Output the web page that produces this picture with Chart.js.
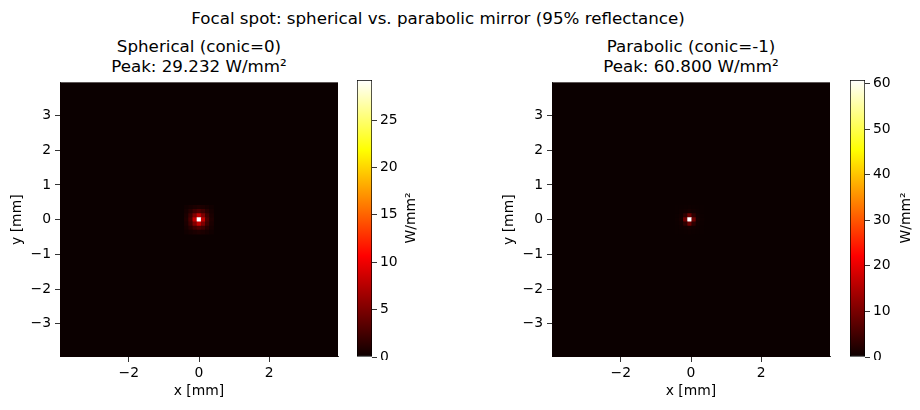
<!doctype html>
<html lang="en">
  <head>
    <meta charset="utf-8">
    <title>Focal spot</title>
    <style>
      * { margin: 0; padding: 0; font-family: "DejaVu Sans", sans-serif; }
      body { width: 920px; height: 410px; background: #fff; position: relative; overflow: hidden; }
      .box { position: absolute; }
      .txt { position: absolute; color: #000; white-space: nowrap; text-align: center; }
      .ttl { font-size: 16.7px; line-height: 20px; width: 400px; }
      .sup { width: 640px; }
      .cbl { font-size: 13.9px; line-height: 16px; width: 80px; transform: rotate(-90deg); }
    </style>
  </head>
  <body>
    <div class="txt ttl sup" style="left:118px; top:8px;">Focal spot: spherical vs. parabolic mirror (95% reflectance)</div>
    <div class="txt ttl" style="left:-1px; top:36px;">Spherical (conic=0)<br>Peak: 29.232 W/mm²</div>
    <div class="txt ttl" style="left:491px; top:36px;">Parabolic (conic=-1)<br>Peak: 60.800 W/mm²</div>

    <div class="box" style="left:0px; top:70px; width:345px; height:340px;"><canvas id="mapL"></canvas></div>
    <div class="box" style="left:345px; top:70px; width:75px; height:290px;"><canvas id="cbL"></canvas></div>
    <div class="txt cbl" style="left:370px; top:210px;">W/mm²</div>

    <div class="box" style="left:492px; top:70px; width:345px; height:340px;"><canvas id="mapR"></canvas></div>
    <div class="box" style="left:838px; top:70px; width:75px; height:290px;"><canvas id="cbR"></canvas></div>
    <div class="txt cbl" style="left:865px; top:210px;">W/mm²</div>

    <script src="https://cdn.jsdelivr.net/npm/chart.js/dist/chart.umd.min.js"></script>
    <script>
    // data
    const extent = 3.96;            // mm, half width of the image
    const cellSize = 0.12;          // mm per image cell
    const xTicks = [-2, 0, 2];
    const yTicks = [-3, -2, -1, 0, 1, 2, 3];
    const peakSph = 29.232;
    const peakPar = 60.8;
    const cbTicksSph = [0, 5, 10, 15, 20, 25];
    const cbTicksPar = [0, 10, 20, 30, 40, 50, 60];
    const centerSph = [0, 0];
    const centerPar = [-0.04, 0];

    // irradiance around the focus, W/mm² (rows top to bottom)
    const gridSph = [
      [0.3, 0.5, 0.7, 0.9, 0.7, 0.5, 0.3],
      [0.5, 1.2, 2.2, 2.8, 2.2, 1.2, 0.5],
      [0.7, 2.2, 5.0, 8.0, 5.0, 2.2, 0.7],
      [0.9, 2.8, 8.0, 29.232, 8.0, 2.8, 0.9],
      [0.7, 2.2, 5.0, 8.0, 5.0, 2.2, 0.7],
      [0.5, 1.2, 2.2, 2.8, 2.2, 1.2, 0.5],
      [0.3, 0.5, 0.7, 0.9, 0.7, 0.5, 0.3]
    ];
    const gridPar = [
      [0.1, 0.1, 0.2, 0.3, 0.2, 0.1, 0.1],
      [0.1, 0.3, 0.6, 0.9, 0.6, 0.3, 0.1],
      [0.2, 0.6, 3.0, 9.0, 3.0, 0.6, 0.2],
      [0.3, 0.9, 9.0, 60.8, 9.0, 0.9, 0.3],
      [0.2, 0.6, 3.0, 9.0, 3.0, 0.6, 0.2],
      [0.1, 0.3, 0.6, 0.9, 0.6, 0.3, 0.1],
      [0.1, 0.1, 0.2, 0.3, 0.2, 0.1, 0.1]
    ];

    // matplotlib 'hot'
    function hot(t) {
      t = Math.max(0, Math.min(1, t));
      const r = t < 0.365079 ? 0.0416 + (1 - 0.0416) * t / 0.365079 : 1;
      const g = t < 0.365079 ? 0 : (t < 0.746032 ? (t - 0.365079) / (0.746032 - 0.365079) : 1);
      const b = t < 0.746032 ? 0 : (t - 0.746032) / (1 - 0.746032);
      return `rgb(${Math.round(r * 255)},${Math.round(g * 255)},${Math.round(b * 255)})`;
    }

    const FONT = { family: 'DejaVu Sans', size: 13.9 };
    const minus = v => (v < 0 ? '\u2212' + Math.abs(v) : '' + v);

    const imageBg = {
      id: 'imageBg',
      beforeDatasetsDraw(chart) {
        const a = chart.chartArea;
        const c = chart.ctx;
        c.save();
        c.fillStyle = hot(0);
        c.fillRect(a.left, a.top, a.right - a.left, a.bottom - a.top);
        c.restore();
      }
    };

    function cellPoints(grid, center) {
      const n = grid.length, h = (n - 1) / 2;
      const pts = [];
      grid.forEach((row, i) => row.forEach((v, j) => {
        pts.push({ x: center[0] + (j - h) * cellSize, y: center[1] + (h - i) * cellSize, v });
      }));
      return pts;
    }

    function cellRadius(ctx) {
      const x = ctx.chart.scales.x;
      if (!x) return 2;
      const side = Math.abs(x.getPixelForValue(cellSize) - x.getPixelForValue(0));
      return (side + 0.4) / Math.SQRT2;
    }

    function mapChart(id, grid, center, peak) {
      return new Chart(document.getElementById(id), {
        type: 'scatter',
        data: {
          datasets: [{
            data: cellPoints(grid, center),
            pointStyle: 'rect',
            borderWidth: 0,
            backgroundColor: ctx => hot(ctx.raw ? ctx.raw.v / peak : 0),
            pointRadius: cellRadius,
            pointHoverRadius: cellRadius
          }]
        },
        options: {
          responsive: true,
          maintainAspectRatio: false,
          animation: false,
          events: [],
          layout: { padding: { top: 10, right: 7, left: 0, bottom: 0 } },
          plugins: { legend: { display: false }, tooltip: { enabled: false } },
          scales: {
            x: {
              type: 'linear', min: -extent, max: extent,
              afterBuildTicks: s => { s.ticks = xTicks.map(v => ({ value: v })); },
              afterFit: s => { s.height = 53; },
              ticks: { color: '#000', font: FONT, padding: 3, maxRotation: 0, callback: v => minus(v) },
              grid: { drawOnChartArea: false, drawTicks: true, tickLength: 5, tickColor: '#000', tickWidth: 0.8 },
              border: { display: true, color: '#000', width: 0.8 },
              title: { display: true, text: 'x [mm]', color: '#000', font: FONT, padding: { top: 0, bottom: 10 } }
            },
            y: {
              type: 'linear', min: -extent, max: extent,
              afterBuildTicks: s => { s.ticks = yTicks.map(v => ({ value: v })); },
              afterFit: s => { s.width = 60; },
              ticks: { color: '#000', font: FONT, padding: 4, callback: v => minus(v) },
              grid: { drawOnChartArea: false, drawTicks: true, tickLength: 5, tickColor: '#000', tickWidth: 0.8 },
              border: { display: true, color: '#000', width: 0.8 },
              title: { display: true, text: 'y [mm]', color: '#000', font: FONT, padding: { top: 9, bottom: 0 } }
            }
          }
        },
        plugins: [imageBg]
      });
    }

    function colorbar(id, peak, ticks) {
      return new Chart(document.getElementById(id), {
        type: 'bar',
        data: {
          labels: ['cb'],
          datasets: [{
            data: [[0, peak]],
            barPercentage: 1,
            categoryPercentage: 1,
            borderWidth: 1,
            borderColor: '#000',
            borderSkipped: false,
            backgroundColor: ctx => {
              const chart = ctx.chart;
              const y = chart.scales.y;
              if (!chart.chartArea || !y) return hot(0);
              const g = chart.ctx.createLinearGradient(0, y.getPixelForValue(0), 0, y.getPixelForValue(peak));
              [0, 0.1, 0.2, 0.3, 0.365079, 0.5, 0.6, 0.746032, 0.85, 1].forEach(t => g.addColorStop(t, hot(t)));
              return g;
            }
          }]
        },
        options: {
          responsive: true,
          maintainAspectRatio: false,
          animation: false,
          events: [],
          layout: { padding: { top: 10, right: 0, left: 12, bottom: 3 } },
          plugins: { legend: { display: false }, tooltip: { enabled: false } },
          scales: {
            x: { display: false },
            y: {
              position: 'right', min: 0, max: peak,
              afterBuildTicks: s => { s.ticks = ticks.map(v => ({ value: v })); },
              afterFit: s => { s.width = 48; s.paddingTop = 0; s.paddingBottom = 0; },
              ticks: { color: '#000', font: FONT, padding: 3 },
              grid: { drawOnChartArea: false, drawTicks: true, tickLength: 5, tickColor: '#000', tickWidth: 0.8 },
              border: { display: false }
            }
          }
        }
      });
    }

    mapChart('mapL', gridSph, centerSph, peakSph);
    colorbar('cbL', peakSph, cbTicksSph);
    mapChart('mapR', gridPar, centerPar, peakPar);
    colorbar('cbR', peakPar, cbTicksPar);
    </script>
  </body>
</html>
